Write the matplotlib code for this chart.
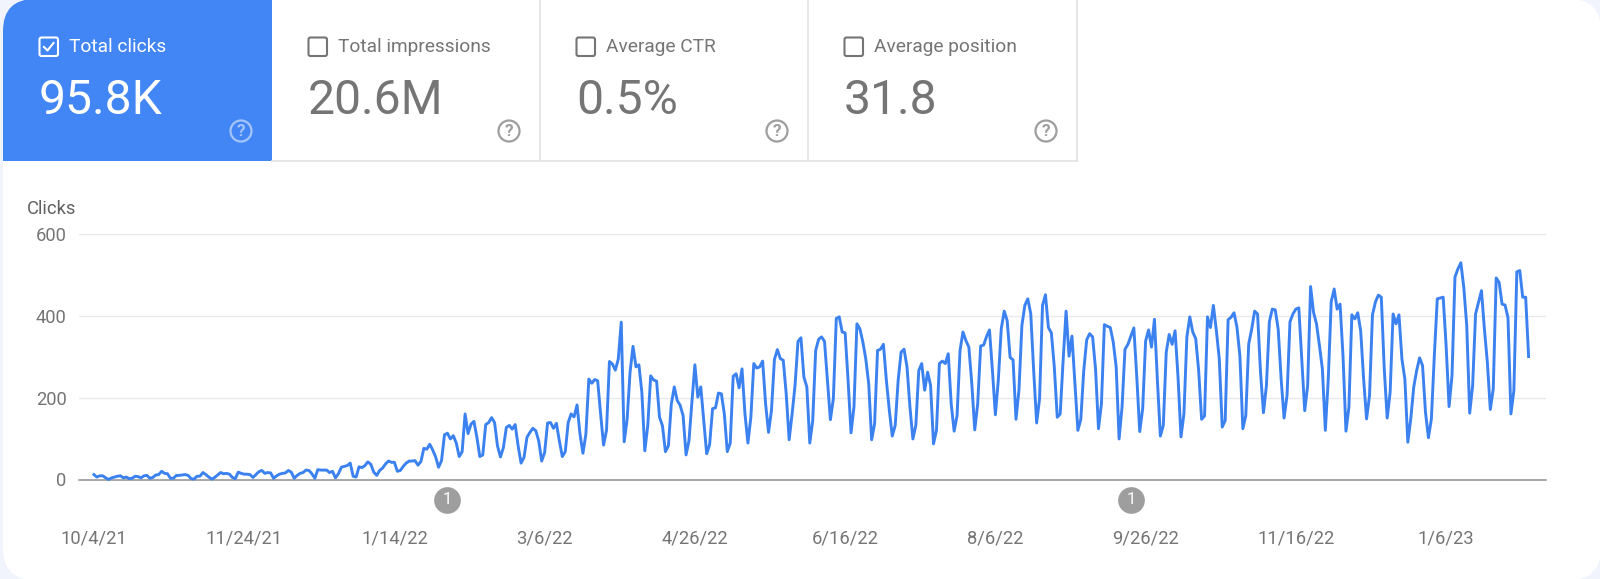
import matplotlib
matplotlib.use("Agg")
import numpy as np
import matplotlib.pyplot as plt
from matplotlib.patches import FancyBboxPatch, Rectangle, Circle

plt.rcParams['font.family'] = ['Roboto', 'DejaVu Sans']

W, H = 1600, 579

#cards along the top
card_labels = ["Total clicks", "Total impressions", "Average CTR", "Average position"]
card_values = ["95.8K", "20.6M", "0.5%", "31.8"]

y_ticks = [0, 200, 400, 600]
x_tick_days = [0, 51, 102, 153, 204, 255, 306, 357, 408, 459]
x_tick_labels = ["10/4/21", "11/24/21", "1/14/22", "3/6/22", "4/26/22", "6/16/22",
                 "8/6/22", "9/26/22", "11/16/22", "1/6/23"]
event_days = [120, 352]
event_labels = ["1", "1"]

#daily clicks, one row per week, monday to sunday
clicks = [
    12, 6, 9, 9, 4, 0, 4,
    6, 8, 9, 4, 6, 2, 3,
    8, 7, 4, 9, 10, 3, 5,
    11, 12, 20, 15, 14, 3, 3,
    10, 10, 11, 12, 10, 2, 1,
    8, 8, 17, 12, 6, 1, 5,
    11, 17, 14, 15, 13, 5, 2,
    18, 15, 13, 13, 12, 5, 12,
    19, 22, 15, 17, 16, 3, 9,
    13, 15, 16, 22, 18, 3, 10,
    15, 17, 23, 22, 14, 3, 24,
    23, 23, 23, 17, 20, 4, 14,
    30, 32, 34, 40, 8, 6, 31,
    29, 34, 43, 37, 18, 10, 22,
    28, 38, 45, 42, 42, 20, 22,
    32, 40, 45, 45, 46, 35, 44,
    76, 74, 86, 72, 55, 30, 46,
    109, 113, 99, 107, 89, 56, 68,
    160, 112, 135, 142, 103, 56, 60,
    134, 139, 151, 139, 82, 55, 78,
    127, 132, 123, 134, 82, 40, 54,
    103, 115, 125, 119, 94, 45, 66,
    138, 139, 125, 137, 94, 56, 68,
    139, 160, 153, 182, 111, 64, 111,
    245, 235, 244, 241, 160, 84, 120,
    288, 282, 267, 294, 384, 92, 147,
    262, 325, 275, 280, 213, 70, 131,
    253, 243, 240, 152, 131, 68, 82,
    184, 226, 193, 181, 156, 60, 95,
    190, 280, 201, 226, 144, 63, 85,
    173, 175, 211, 209, 160, 68, 89,
    252, 258, 224, 270, 160, 89, 152,
    283, 272, 275, 289, 185, 115, 169,
    293, 317, 295, 291, 209, 97, 160,
    230, 337, 346, 250, 226, 89, 144,
    315, 342, 348, 337, 242, 146, 197,
    393, 397, 360, 358, 242, 114, 177,
    380, 368, 336, 295, 234, 97, 136,
    315, 318, 330, 242, 169, 106, 132,
    242, 311, 318, 275, 177, 99, 132,
    266, 283, 218, 262, 230, 87, 120,
    283, 289, 283, 307, 185, 118, 156,
    315, 360, 339, 323, 234, 121, 185,
    326, 328, 349, 365, 266, 158, 243,
    368, 411, 388, 298, 292, 147, 218,
    376, 425, 441, 405, 266, 138, 197,
    425, 451, 371, 358, 275, 152, 160,
    291, 411, 301, 350, 234, 120, 147,
    266, 341, 356, 348, 270, 124, 185,
    378, 374, 371, 336, 275, 99, 177,
    318, 330, 350, 370, 250, 117, 173,
    338, 365, 323, 391, 242, 106, 132,
    311, 354, 330, 363, 250, 104, 160,
    348, 397, 360, 344, 266, 147, 155,
    397, 371, 425, 364, 295, 128, 144,
    390, 396, 407, 372, 302, 124, 156,
    331, 367, 411, 404, 262, 163, 229,
    385, 416, 414, 367, 245, 150, 205,
    385, 404, 416, 419, 294, 168, 229,
    471, 408, 380, 327, 270, 120, 245,
    434, 465, 416, 428, 302, 118, 176,
    402, 392, 407, 363, 245, 148, 205,
    402, 433, 450, 445, 270, 150, 213,
    404, 380, 402, 294, 245, 91, 148,
    225, 266, 297, 278, 164, 102, 148,
    302, 441, 443, 445, 327, 178, 254,
    494, 514, 529, 469, 376, 162, 229,
    404, 433, 461, 367, 286, 171, 221,
    492, 481, 428, 426, 395, 160, 217,
    507, 510, 445, 445, 300,
]
days = np.arange(len(clicks))

BLUE = "#4285f4"
LINE_BLUE = "#3b82f0"
GREY = "#757575"
LINE = "#e3e4e6"

fig = plt.figure(figsize=(W / 100, H / 100), dpi=100, facecolor="#f1f4fd")

#background layer, in pixels of the picture
bg = fig.add_axes([0, 0, 1, 1])
bg.set_xlim(0, W)
bg.set_ylim(H, 0)
bg.axis("off")

def rounded(x0, y0, x1, y1, r, color, clip=None, z=1):
    p = FancyBboxPatch((x0 + r, y0 + r), x1 - x0 - 2 * r, y1 - y0 - 2 * r,
                       boxstyle="round,pad=%d,rounding_size=%d" % (r, r),
                       fc=color, ec="none", zorder=z)
    bg.add_patch(p)
    if clip is not None:
        p.set_clip_path(clip)
    return p

rounded(3, -1, 1601, 580, 32, "white", z=1)

edges = [3, 272, 540, 808, 1077]
blue_clip = Rectangle((3, 0), 269, 161, transform=bg.transData)
rounded(3, -1, 330, 230, 32, BLUE, clip=blue_clip, z=2)

#card borders
bg.plot([272, 1077], [161, 161], color=LINE, lw=1.3, zorder=2)
for e in edges[2:]:
    bg.plot([e, e], [0, 161], color=LINE, lw=1.3, zorder=2)

for i in range(4):
    col = "white" if i == 0 else GREY
    left = edges[i] + 36
    #checkbox
    bg.add_patch(FancyBboxPatch((left + 0.5, 37.5), 18.5, 18.5, boxstyle="round,pad=0,rounding_size=2",
                                fc="none", ec=col, lw=1.5, zorder=3))
    if i == 0:
        bg.plot([left + 5, left + 8.5, left + 14.5], [47, 50.5, 43], color="white", lw=1.5, zorder=4)
    bg.text(left + 30, 47, card_labels[i], color=col, fontsize=13.8, va="center", ha="left", zorder=3)
    bg.text(left, 101, card_values[i], color=col, fontsize=34.6, va="center", ha="left", zorder=3)
    #help icon
    cx = edges[i + 1] - 31
    icon = "#a5c4fa" if i == 0 else "#9e9e9e"
    bg.add_patch(Circle((cx, 131), 10.5, fc="none", ec=icon, lw=1.6, zorder=3))
    bg.text(cx, 131, "?", color=icon, fontsize=12.5, fontweight="bold", ha="center", va="center", zorder=3)

bg.text(27, 209, "Clicks", color="#616161", fontsize=13.2, va="center", ha="left")

#chart, placed so the axis lands where it does in the picture
x_left, x_right = 79, 1546
y_zero, y_top = 479.5, 233.7
ax = fig.add_axes([x_left / W, 1 - y_zero / H, (x_right - x_left) / W, (y_zero - y_top) / H])
ax.patch.set_alpha(0)
px_per_day = 2.946
ax.set_xlim((x_left - 93.9) / px_per_day, (x_right - 93.9) / px_per_day)
ax.set_ylim(0, 600)

ax.plot(days, clicks, color=LINE_BLUE, lw=2.1, solid_joinstyle="round", clip_on=False, zorder=3)

ax.set_yticks(y_ticks)
ax.set_xticks(x_tick_days)
ax.set_xticklabels(x_tick_labels)
ax.tick_params(axis="both", length=0, labelcolor=GREY, labelsize=13.2)
ax.tick_params(axis="x", pad=36)
ax.tick_params(axis="y", pad=9)
ax.grid(axis="y", color="#e8eaed", lw=1)
ax.set_axisbelow(True)
for s in ["top", "left", "right"]:
    ax.spines[s].set_visible(False)
ax.spines["bottom"].set_color("#9a9a9a")
ax.spines["bottom"].set_linewidth(1.2)

#event markers under the axis
y_event = -50
ax.scatter(event_days, [y_event] * len(event_days), s=370, color="#9e9e9e", clip_on=False, zorder=4, lw=0)
for d, t in zip(event_days, event_labels):
    ax.text(d, y_event, t, color="white", fontsize=12, ha="center", va="center", zorder=5)

fig.savefig("out.png", dpi=100, facecolor=fig.get_facecolor())
